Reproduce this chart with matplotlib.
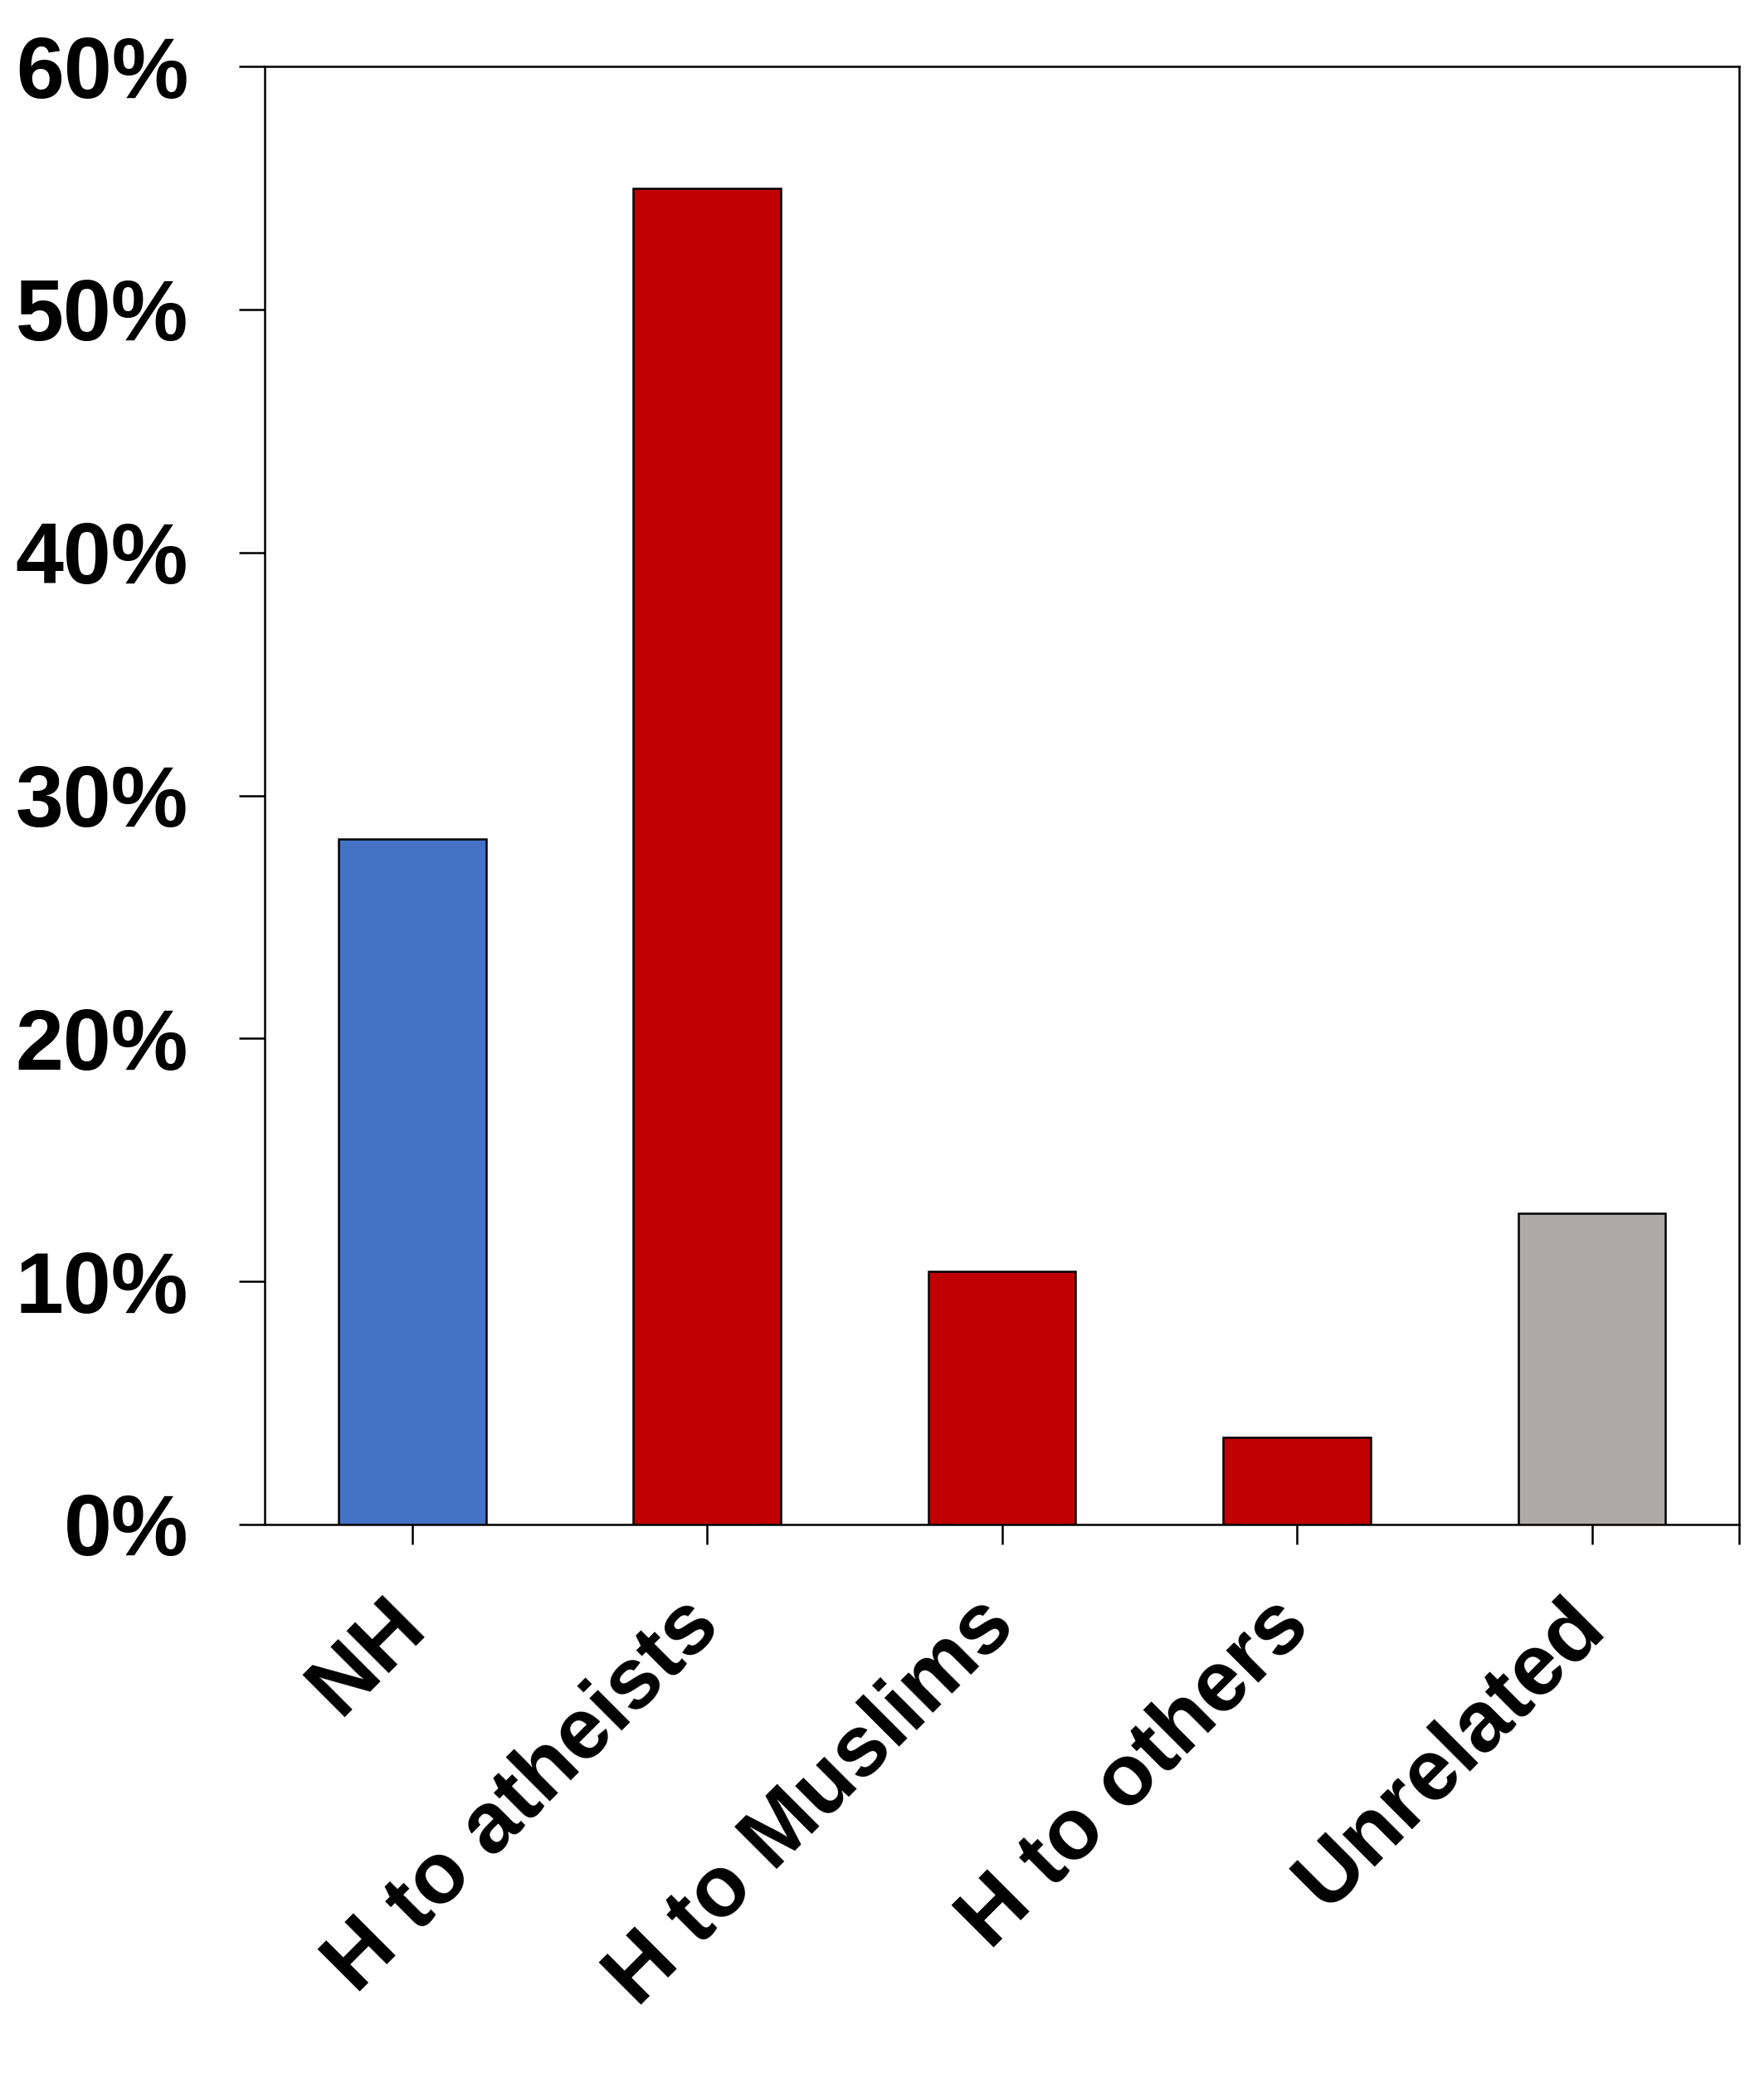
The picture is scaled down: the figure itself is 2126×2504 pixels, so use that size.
import matplotlib
matplotlib.use('Agg')
import matplotlib.pyplot as plt
import numpy as np

# values (percent)
categories = ['NH', 'H to atheists', 'H to Muslims', 'H to others', 'Unrelated']
values = [28.2, 55.0, 10.4, 3.6, 12.8]
colors = ['#4472C4', '#C00000', '#C00000', '#C00000', '#AEAAAA']
yticks = [0, 10, 20, 30, 40, 50, 60]
ytick_labels = ['0%', '10%', '20%', '30%', '40%', '50%', '60%']

plt.rcParams['font.family'] = ['Liberation Sans', 'DejaVu Sans']
plt.rcParams['font.weight'] = 'bold'

fig = plt.figure(figsize=(21.26, 25.04), dpi=100)
ax = fig.add_axes([0.150, 0.2664, 0.836, 0.7016])

x = np.arange(len(categories))
ax.bar(x, values, width=0.5, color=colors, edgecolor='black', linewidth=1.8, zorder=3)

ax.set_xlim(-0.5, 4.5)
ax.set_ylim(0, 60)

ax.set_yticks(yticks)
ax.set_yticklabels(ytick_labels, fontsize=75, fontweight='bold')
ax.set_xticks(x)
ax.set_xticklabels(categories, fontsize=75, fontweight='bold',
                   rotation=45, ha='right', va='center', rotation_mode='anchor')
ax.set_xticks([4.5], minor=True)

ax.tick_params(axis='y', length=22, width=1.8, pad=44)
ax.tick_params(axis='x', which='both', length=17, width=1.8, pad=60)

for s in ax.spines.values():
    s.set_linewidth(1.8)

fig.savefig('out.png', dpi=100)
